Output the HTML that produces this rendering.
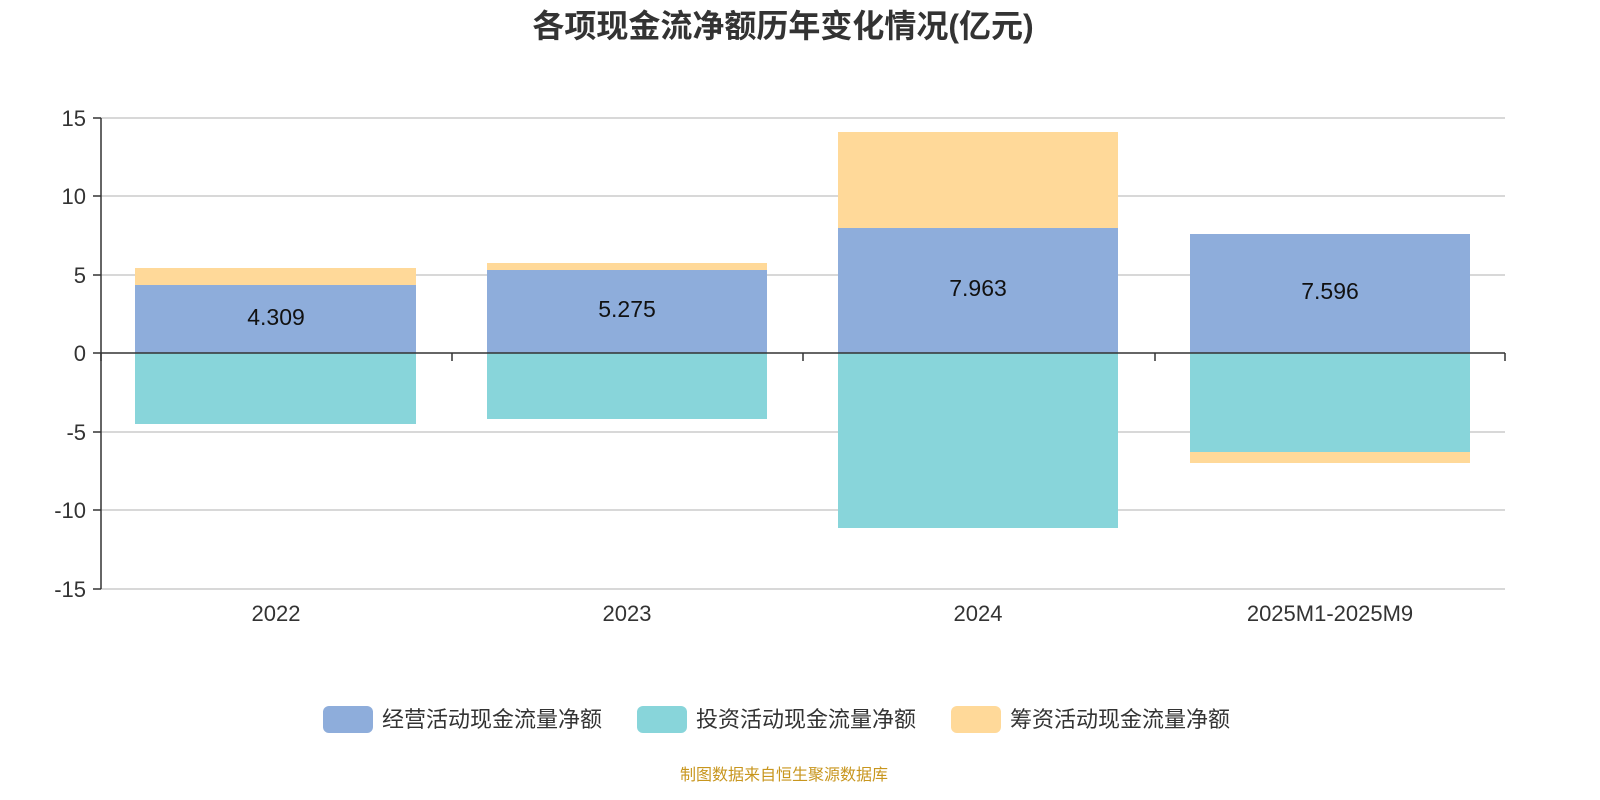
<!DOCTYPE html>
<html><head><meta charset="utf-8">
<style>
html,body{margin:0;padding:0;background:#fff;overflow:hidden;}
svg{display:block;}
svg text{font-family:"Liberation Sans","Noto Sans CJK SC",sans-serif;}
</style></head>
<body>
<svg width="1600" height="800" xmlns="http://www.w3.org/2000/svg">
<rect width="1600" height="800" fill="#fff"/>
<text x="783" y="37" font-size="32" font-weight="bold" fill="#333" text-anchor="middle">各项现金流净额历年变化情况(亿元)</text>
<g stroke="#ccc" stroke-width="1.5">
<line x1="101" y1="118" x2="1505" y2="118"/>
<line x1="101" y1="196" x2="1505" y2="196"/>
<line x1="101" y1="275" x2="1505" y2="275"/>
<line x1="101" y1="432" x2="1505" y2="432"/>
<line x1="101" y1="510" x2="1505" y2="510"/>
<line x1="101" y1="589" x2="1505" y2="589"/>
</g>
<g>
<rect x="135" y="268" width="281" height="17" fill="#ffd999"/>
<rect x="135" y="285" width="281" height="68" fill="#8eaddb"/>
<rect x="135" y="353" width="281" height="71" fill="#88d5da"/>
<rect x="487" y="263" width="280" height="7" fill="#ffd999"/>
<rect x="487" y="270" width="280" height="83" fill="#8eaddb"/>
<rect x="487" y="353" width="280" height="66" fill="#88d5da"/>
<rect x="838" y="132" width="280" height="96" fill="#ffd999"/>
<rect x="838" y="228" width="280" height="125" fill="#8eaddb"/>
<rect x="838" y="353" width="280" height="175" fill="#88d5da"/>
<rect x="1190" y="234" width="280" height="119" fill="#8eaddb"/>
<rect x="1190" y="353" width="280" height="99" fill="#88d5da"/>
<rect x="1190" y="452" width="280" height="11" fill="#ffd999"/>
</g>
<g stroke="#333" stroke-width="1.5">
<line x1="101" y1="118" x2="101" y2="589"/>
<line x1="93" y1="118" x2="101" y2="118"/>
<line x1="93" y1="196" x2="101" y2="196"/>
<line x1="93" y1="275" x2="101" y2="275"/>
<line x1="93" y1="353" x2="101" y2="353"/>
<line x1="93" y1="432" x2="101" y2="432"/>
<line x1="93" y1="510" x2="101" y2="510"/>
<line x1="93" y1="589" x2="101" y2="589"/>
<line x1="101" y1="353" x2="1505" y2="353"/>
<line x1="101" y1="353" x2="101" y2="361"/>
<line x1="452" y1="353" x2="452" y2="361"/>
<line x1="803" y1="353" x2="803" y2="361"/>
<line x1="1155" y1="353" x2="1155" y2="361"/>
<line x1="1505" y1="353" x2="1505" y2="361"/>
</g>
<g font-size="22" fill="#333" text-anchor="end">
<text x="86" y="126">15</text>
<text x="86" y="204">10</text>
<text x="86" y="283">5</text>
<text x="86" y="361">0</text>
<text x="86" y="440">-5</text>
<text x="86" y="518">-10</text>
<text x="86" y="597">-15</text>
</g>
<g font-size="22" fill="#333" text-anchor="middle">
<text x="276" y="621">2022</text>
<text x="627" y="621">2023</text>
<text x="978" y="621">2024</text>
<text x="1330" y="621">2025M1-2025M9</text>
</g>
<g font-size="23" fill="#111" text-anchor="middle">
<text x="276" y="325">4.309</text>
<text x="627" y="317">5.275</text>
<text x="978" y="296">7.963</text>
<text x="1330" y="299">7.596</text>
</g>
<g font-size="22" fill="#333">
<rect x="323" y="706" width="50" height="27" rx="6" fill="#8eaddb"/>
<text x="382" y="727">经营活动现金流量净额</text>
<rect x="637" y="706" width="50" height="27" rx="6" fill="#88d5da"/>
<text x="696" y="727">投资活动现金流量净额</text>
<rect x="951" y="706" width="50" height="27" rx="6" fill="#ffd999"/>
<text x="1010" y="727">筹资活动现金流量净额</text>
</g>
<text x="784" y="780" font-size="16" fill="#c8961e" text-anchor="middle">制图数据来自恒生聚源数据库</text>
</svg>
</body></html>
